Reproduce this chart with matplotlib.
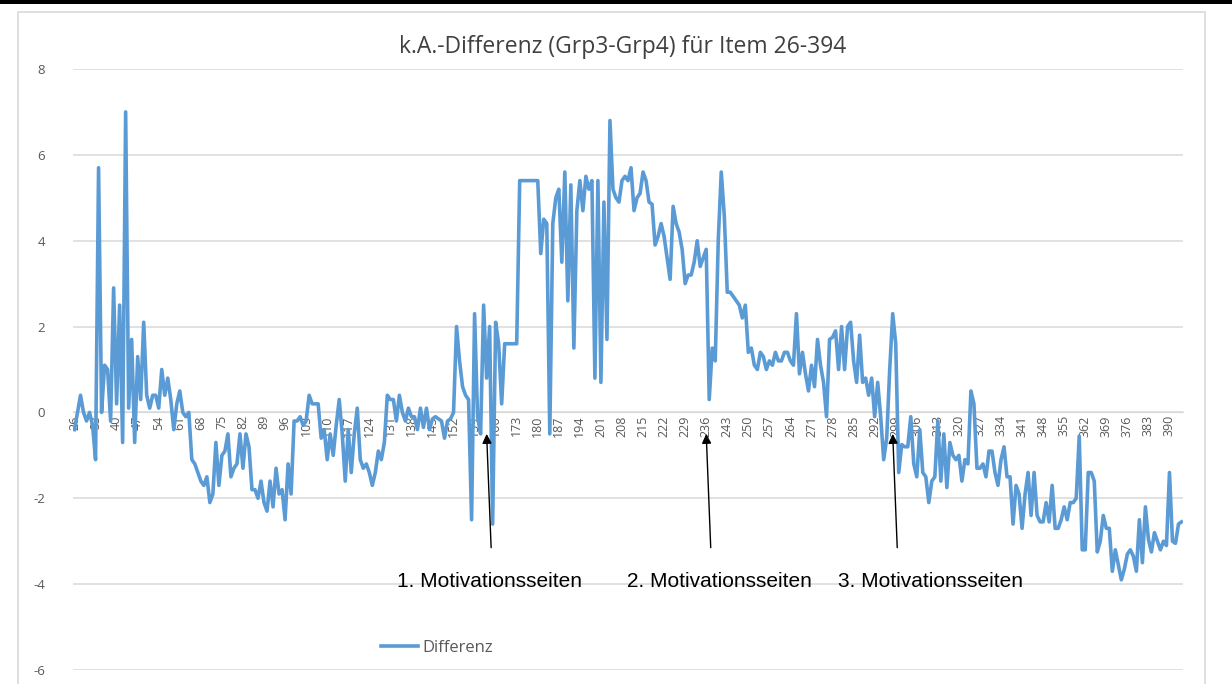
#!/usr/bin/env python
# coding: utf-8

import numpy as np
import matplotlib
matplotlib.use("Agg")
import matplotlib.pyplot as plt
from matplotlib.patches import Rectangle

plt.rcParams["axes.unicode_minus"] = False

# ------------------------------------------------------------------
# Data: k.A.-Differenz (Grp3-Grp4), one value per item 26..394
# ------------------------------------------------------------------
items = np.arange(26, 395)
differenz = [
    -0.4, 0.0, 0.4, 0.0, -0.2, 0.0, -0.3, -1.1, 5.7, 0.0,        # 26-35
    1.1, 1.0, -0.2, 2.9, 0.2, 2.5, -0.7, 7.0, 0.1, 1.7,          # 36-45
    -0.7, 1.3, 0.3, 2.1, 0.4, 0.1, 0.4, 0.4, 0.1, 1.0,           # 46-55
    0.4, 0.8, 0.3, -0.4, 0.2, 0.5, 0.0, -0.1, 0.0, -1.1,         # 56-65
    -1.2, -1.4, -1.6, -1.7, -1.5, -2.1, -1.9, -0.7, -1.7, -1.0,  # 66-75
    -0.9, -0.5, -1.5, -1.3, -1.2, -0.5, -1.3, -0.5, -0.8, -1.8,  # 76-85
    -1.8, -2.0, -1.6, -2.1, -2.3, -1.6, -2.2, -1.3, -1.9, -1.8,  # 86-95
    -2.5, -1.2, -1.9, -0.2, -0.2, -0.1, -0.3, -0.2, 0.4, 0.2,    # 96-105
    0.2, 0.2, -0.6, -0.4, -1.1, -0.5, -1.0, -0.3, 0.3, -0.5,     # 106-115
    -1.6, -0.4, -1.4, -0.5, 0.1, -1.1, -1.3, -1.2, -1.4, -1.7,   # 116-125
    -1.4, -0.9, -1.1, -0.7, 0.4, 0.3, 0.3, -0.2, 0.4, 0.0,       # 126-135
    -0.2, 0.1, -0.1, -0.1, -0.4, 0.1, -0.35, 0.1, -0.4, -0.15,   # 136-145
    -0.1, -0.15, -0.2, -0.6, -0.2, -0.15, 0.0, 2.0, 1.2, 0.6,    # 146-155
    0.4, 0.3, -2.5, 2.3, -0.1, -0.5, 2.5, 0.8, 2.0, -2.6,        # 156-165
    2.1, 1.6, 0.2, 1.6, 1.6, 1.6, 1.6, 1.6, 5.4, 5.4,            # 166-175
    5.4, 5.4, 5.4, 5.4, 5.4, 3.7, 4.5, 4.4, -0.5, 4.4,           # 176-185
    5.0, 5.2, 3.5, 5.6, 2.6, 5.3, 1.5, 4.7, 5.4, 4.7,            # 186-195
    5.5, 5.2, 5.4, 0.8, 5.4, 0.7, 4.9, 1.7, 6.8, 5.2,            # 196-205
    5.0, 4.9, 5.4, 5.5, 5.4, 5.7, 4.7, 5.0, 5.1, 5.6,            # 206-215
    5.4, 4.9, 4.85, 3.9, 4.1, 4.4, 4.1, 3.6, 3.1, 4.8,           # 216-225
    4.4, 4.2, 3.8, 3.0, 3.2, 3.2, 3.5, 4.0, 3.4, 3.6,            # 226-235
    3.8, 0.3, 1.5, 1.2, 4.0, 5.6, 4.6, 2.8, 2.8, 2.7,            # 236-245
    2.6, 2.5, 2.2, 2.5, 1.4, 1.5, 1.1, 1.0, 1.4, 1.3,            # 246-255
    1.0, 1.2, 1.1, 1.4, 1.2, 1.2, 1.4, 1.4, 1.2, 1.1,            # 256-265
    2.3, 0.9, 1.4, 0.9, 0.5, 1.1, 0.6, 1.7, 1.1, 0.7,            # 266-275
    -0.1, 1.7, 1.75, 1.9, 1.0, 2.0, 1.0, 2.0, 2.1, 1.2,          # 276-285
    0.7, 1.8, 0.7, 0.8, 0.4, 0.8, -0.1, 0.7, -0.1, -1.1,         # 286-295
    -0.6, 1.0, 2.3, 1.6, -1.4, -0.75, -0.8, -0.8, -0.1, -1.2,    # 296-305
    -1.5, -0.4, -1.4, -1.5, -2.1, -1.6, -1.5, -0.2, -1.6, -0.5,  # 306-315
    -1.75, -0.7, -1.0, -1.1, -1.0, -1.6, -1.1, -1.2, 0.5, 0.2,   # 316-325
    -1.3, -1.3, -1.2, -1.5, -0.9, -0.9, -1.4, -1.7, -1.1, -0.8,  # 326-335
    -1.5, -1.5, -2.6, -1.7, -1.9, -2.7, -1.9, -1.4, -2.4, -1.4,  # 336-345
    -2.4, -2.55, -2.55, -2.1, -2.55, -1.7, -2.7, -2.7, -2.5, -2.2,  # 346-355
    -2.5, -2.1, -2.1, -2.0, -0.55, -3.2, -3.2, -1.4, -1.4, -1.6,    # 356-365
    -3.25, -3.0, -2.4, -2.7, -2.7, -3.7, -3.2, -3.55, -3.9, -3.65,  # 366-375
    -3.3, -3.2, -3.35, -3.7, -2.5, -3.5, -2.2, -2.95, -3.25, -2.8,  # 376-385
    -3.0, -3.2, -3.0, -3.1, -1.4, -3.0, -3.05, -2.6, -2.55,         # 386-394
]

# Annotations: item the arrow points at, and its label
marker_items = [163, 236, 298]
marker_labels = ["1. Motivationsseiten", "2. Motivationsseiten", "3. Motivationsseiten"]
label_items = [164, 240.5, 310.5]

yticks = [-6, -4, -2, 0, 2, 4, 6, 8]

# ------------------------------------------------------------------
# Figure
# ------------------------------------------------------------------
W, H = 1232, 684
fig = plt.figure(figsize=(W / 100, H / 100), dpi=100)
fig.patch.set_facecolor("white")

# chart border + black strip at the very top (screenshot edge)
fig.patches.append(Rectangle((18 / W, -0.01), (1205 - 18) / W, 1 - 12 / H + 0.01,
                             transform=fig.transFigure, fill=False,
                             edgecolor="#d9d9d9", lw=1.2))
fig.patches.append(Rectangle((0, 1 - 4 / H), 1, 4 / H, transform=fig.transFigure,
                             facecolor="black", edgecolor="none"))

ax = fig.add_axes([73 / W, 1 - 670 / H, (1183 - 73) / W, (670 - 69) / H])
ax.plot(items, differenz, color="#5b9bd5", lw=2.6, solid_joinstyle="round",
        label="Differenz", zorder=3)

ax.set_xlim(25.5, 394.5)
ax.set_ylim(-6, 8)
ax.set_yticks(yticks)
ax.set_xticks(items[::7])
ax.set_xticklabels([str(v) for v in items[::7]])
ax.grid(axis="y", color="#d9d9d9", lw=1.1)
ax.set_axisbelow(True)
for s in ["top", "right", "left"]:
    ax.spines[s].set_visible(False)
ax.spines["bottom"].set_position(("data", 0))
ax.spines["bottom"].set_color("#d9d9d9")
ax.tick_params(axis="y", length=0, pad=20, labelsize=9.5, labelcolor="#595959")
ax.tick_params(axis="x", length=0, pad=2, labelsize=9, labelcolor="#595959",
               labelrotation=90)
for lab in ax.get_yticklabels() + ax.get_xticklabels():
    lab.set_family("Open Sans")

fig.text(0.505, 1 - 47 / H, "k.A.-Differenz (Grp3-Grp4) für Item 26-394",
         ha="center", va="center", fontsize=16.5, color="#404040",
         family="Open Sans")

for it, lab, lx in zip(marker_items, marker_labels, label_items):
    ax.annotate("", xy=(it, -0.5), xytext=(it + 1.5, -3.15),
                arrowprops=dict(arrowstyle="-|>", color="black", lw=1.0,
                                mutation_scale=14, shrinkA=0, shrinkB=0))
    ax.text(lx, -3.95, lab, ha="center", va="center", fontsize=15,
            family="Liberation Sans", color="black")

leg = ax.legend(loc="center", bbox_to_anchor=(437 / W, 1 - 648 / H),
                bbox_transform=fig.transFigure, frameon=False,
                handlelength=2.2, handletextpad=0.3,
                prop={"family": "Open Sans", "size": 12})
for t in leg.get_texts():
    t.set_color("#595959")

fig.savefig("out.png", dpi=100)
